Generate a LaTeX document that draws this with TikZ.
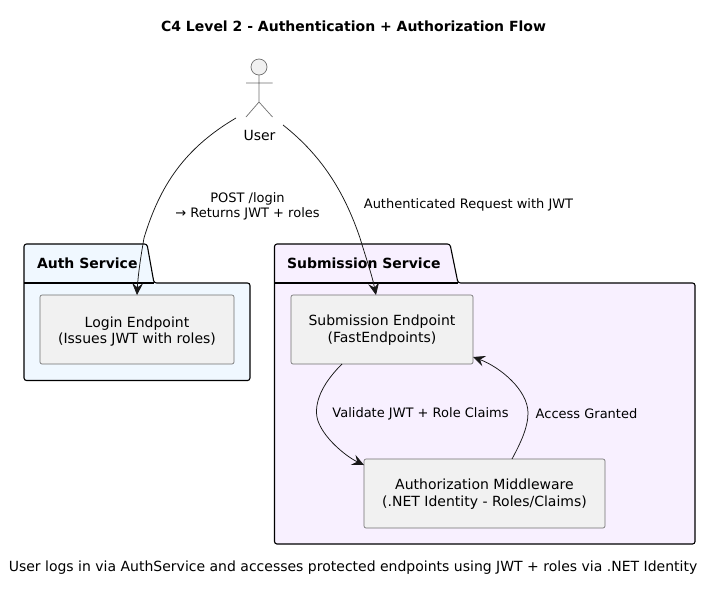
\documentclass[tikz,border=0pt]{standalone}
\usepackage{fontspec}
\setmainfont{DejaVu Sans}
\usetikzlibrary{arrows.meta}
\definecolor{lnk}{HTML}{181818}
\definecolor{boxfill}{HTML}{F1F1F1}
\definecolor{boxline}{HTML}{707070}
\definecolor{authbg}{HTML}{F0F8FF}
\definecolor{subbg}{HTML}{F8F0FF}
\tikzset{
  x=1pt,y=-1pt,
  every node/.style={inner sep=0pt,outer sep=0pt,font=\fontsize{14}{16.2}\selectfont,text=black},
  comp/.style={draw=boxline,fill=boxfill,line width=0.65pt,rounded corners=2pt,align=center,anchor=north west},
  pkg/.style={draw=black,line width=1.1pt,rounded corners=2.5pt,line join=round},
  pkglabel/.style={font=\fontsize{14}{16}\selectfont\bfseries,anchor=base west},
  link/.style={draw=lnk,line width=0.75pt,-{Stealth[length=12pt,width=11pt,inset=4.5pt]}},
  lab/.style={align=center,font=\fontsize{13}{15.2}\selectfont},
  actorline/.style={draw=boxline,line width=0.7pt}
}
\begin{document}
\begin{tikzpicture}
\useasboundingbox (0,0) rectangle (714,592);
\fill[white] (0,0) rectangle (714,592);
\node[font=\fontsize{14}{16}\selectfont\bfseries] (title) at (353.5,26) {C4 Level 2 - Authentication + Authorization Flow};
\node (caption) at (353,568) {User logs in via AuthService and accesses protected endpoints using JWT + roles via .NET Identity};
% packages
\draw[pkg,fill=authbg] (24,283) -- (24,244) -- (147,244) -- (154,283) -- (250,283) -- (250,380.5) -- (24,380.5) -- cycle;
\draw[pkg] (24,283) -- (154,283);
\node[pkglabel] (authlabel) at (37,268) {Auth Service};
\draw[pkg,fill=subbg] (274.5,283) -- (274.5,244) -- (450,244) -- (458,283) -- (695,283) -- (695,544) -- (274.5,544) -- cycle;
\draw[pkg] (274.5,283) -- (458,283);
\node[pkglabel] (sublabel) at (287,268) {Submission Service};
% components
\node[comp,minimum width=194pt,minimum height=69pt,text depth=0pt] (login) at (40,295) {\rule{0pt}{12pt}Login Endpoint\\(Issues JWT with roles)};
\node[comp,minimum width=182pt,minimum height=69pt] (sub) at (291,295) {\rule{0pt}{12pt}Submission Endpoint\\(FastEndpoints)};
\node[comp,minimum width=241pt,minimum height=69pt] (mw) at (364,459) {\rule{0pt}{12pt}Authorization Middleware\\(.NET Identity - Roles/Claims)};
% actor
\draw[actorline,fill=boxfill] (259,67) circle (8);
\draw[actorline] (259,75) -- (259,102) (246,83) -- (272.5,83) (246,117) -- (259,102) -- (272.5,117);
\node (user) at (259.5,135) {User};
\coordinate (uleft) at (236,118);
\coordinate (uright) at (283,125);
% connectors
\draw[link] (uleft) .. controls (185,148) and (160,185) .. (144,238) .. controls (141,255) and (138,275) .. (login.north);
\draw[link] (uright) .. controls (325,158) and (346,197) .. (360,238) .. controls (366,258) and (372,275) .. ([xshift=-6pt]sub.north);
\draw[link] ([xshift=-40pt]sub.south) .. controls (328,378) and (316,395) .. (316.5,413) .. controls (317,433) and (345,456) .. ([yshift=-6pt]mw.north west);
\draw[link] ([xshift=27.5pt]mw.north) .. controls (520,444) and (528,428) .. (528,413) .. controls (528,390) and (500,367) .. ([yshift=7pt]sub.south east);
% labels
\node[lab] (l1) at (247.5,206) {POST /login\\→ Returns JWT + roles};
\node[lab] (l2) at (468.5,204.5) {Authenticated Request with JWT};
\node[lab] (l3) at (420.5,413.5) {Validate JWT + Role Claims};
\node[lab] (l4) at (586.5,413.5) {Access Granted};
\end{tikzpicture}
\end{document}
